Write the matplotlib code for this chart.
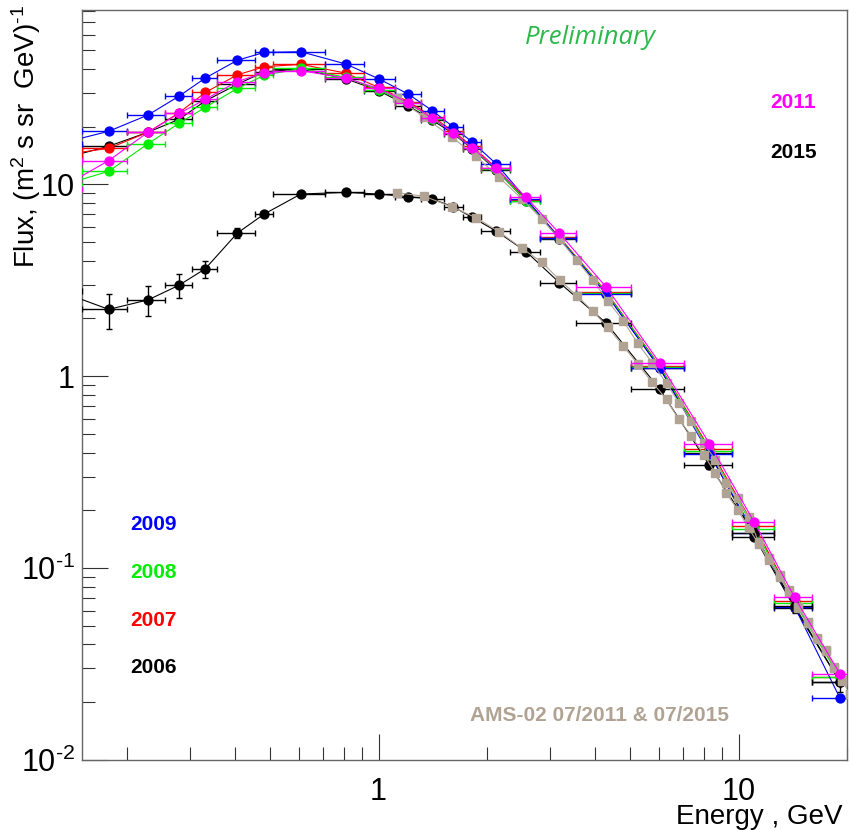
import matplotlib
matplotlib.use("Agg")
import matplotlib.pyplot as plt
import numpy as np

plt.rcParams['font.family'] = ['Liberation Sans', 'DejaVu Sans']
plt.rcParams['mathtext.fontset'] = 'custom'
plt.rcParams['mathtext.rm'] = 'Liberation Sans'
plt.rcParams['mathtext.it'] = 'Liberation Sans:italic'
plt.rcParams['mathtext.bf'] = 'Liberation Sans:bold'

# ---------------- data ----------------
energy = [0.13, 0.178, 0.229, 0.279, 0.330, 0.405, 0.481, 0.608, 0.810, 1.00, 1.21, 1.41,
          1.61, 1.82, 2.12, 2.57, 3.18, 4.29, 6.04, 8.30, 11.05, 14.3, 19.1]
e_lo = [0.11, 0.150, 0.200, 0.255, 0.304, 0.355, 0.454, 0.508, 0.71, 0.91, 1.11, 1.31,
        1.52, 1.72, 1.93, 2.32, 2.81, 3.53, 5.03, 7.05, 9.56, 12.57, 16.0]
e_hi = [0.15, 0.200, 0.255, 0.304, 0.355, 0.454, 0.508, 0.71, 0.91, 1.11, 1.31, 1.52,
        1.72, 1.93, 2.32, 2.81, 3.53, 5.03, 7.05, 9.56, 12.57, 16.0, 22.0]

flux_2006 = [13.5, 15.8, 18.7, 21.8, 27.2, 33.2, 38.6, 39.9, 35.5, 30.8, 25.6, 21.6,
             18.4, 15.3, 11.9, 8.2, 5.2, 2.7, 1.10, 0.40, 0.146, 0.062, 0.0256]
flux_2007 = [14.2, 15.4, 18.7, 23.6, 30.1, 37.2, 41.0, 42.2, 38.0, 32.0, 27.0, 22.5,
             18.9, 15.8, 12.2, 8.3, 5.3, 2.75, 1.13, 0.42, 0.166, 0.067, 0.0272]
flux_2008 = [9.8, 11.7, 16.3, 20.8, 25.2, 31.6, 37.0, 40.2, 36.1, 31.0, 26.4, 22.0,
             18.6, 15.4, 12.0, 8.2, 5.25, 2.72, 1.12, 0.41, 0.160, 0.066, 0.0270]
flux_2009 = [16.3, 18.9, 23.0, 28.8, 35.8, 44.3, 48.7, 49.1, 42.4, 35.5, 29.5, 24.2,
             19.95, 16.6, 12.8, 8.4, 5.23, 2.67, 1.10, 0.392, 0.153, 0.063, 0.0211]
flux_2011 = [9.5, 13.3, 18.7, 23.4, 27.7, 34.3, 38.2, 39.1, 35.8, 31.6, 26.6, 22.1,
             18.6, 15.5, 12.1, 8.55, 5.55, 2.91, 1.17, 0.445, 0.1735, 0.0705, 0.0282]
flux_2015 = [2.77, 2.23, 2.50, 2.98, 3.63, 5.57, 7.0, 8.9, 9.08, 8.9, 8.62, 8.38,
             7.64, 6.73, 5.71, 4.46, 3.07, 1.89, 0.855, 0.343, 0.152, 0.0635, 0.0256]
err_2015 = [0.45, 0.46, 0.44, 0.41, 0.37, 0.33, 0.2, 0.15, 0.12, 0.1, 0.1, 0.1,
            0.1, 0.1, 0.08, 0.06, 0.05, 0.04, 0.03, 0.015, 0.01, 0.005, 0.003]

ams_energy = [1.127, 1.341, 1.600, 1.865, 2.160, 2.500, 2.835, 3.186, 3.551, 3.940, 4.328,
              4.78, 5.243, 5.753, 6.305, 6.822, 7.396, 8.014, 8.62, 9.25, 9.95, 10.66,
              11.36, 12.11, 12.99, 13.76, 14.66, 15.56, 16.48, 17.45, 18.45, 19.42, 20.4]
ams_2011 = [28.07, 22.34, 17.57, 13.99, 10.88, 8.41, 6.62, 5.17, 4.02, 3.16, 2.474,
            1.946, 1.484, 1.176, 0.918, 0.728, 0.582, 0.447, 0.366, 0.2786, 0.231, 0.184,
            0.1373, 0.1125, 0.0920, 0.0769, 0.0630, 0.0526, 0.0431, 0.0374, 0.0306, 0.0261, 0.0222]
ams_2015 = [9.04, 8.66, 7.62, 6.70, 5.66, 4.64, 3.94, 3.17, 2.63, 2.18, 1.798,
            1.437, 1.158, 0.929, 0.758, 0.596, 0.488, 0.3886, 0.312, 0.2454, 0.2008, 0.1612,
            0.134, 0.110, 0.090, 0.0755, 0.0620, 0.0518, 0.0425, 0.0370, 0.0303, 0.0258, 0.0220]

x_ticks = [1, 10]
x_ticklabels = ['1', '10']
y_ticks = [0.01, 0.1, 1, 10]
y_ticklabels = [r'$10^{\text{-2}}$', r'$10^{\text{-1}}$', '1', '10']

# ---------------- plot ----------------
fig = plt.figure(figsize=(8.5, 8.3), dpi=100)
ax = fig.add_axes([82/850, 1-760/830, (847-82)/850, (760-10)/830])
ax.set_xscale('log')
ax.set_yscale('log')
ax.set_xlim(0.15, 20)
ax.set_ylim(0.01, 81)

E = np.array(energy)
xerr = [E - np.array(e_lo), np.array(e_hi) - E]

C_BLACK = '#000000'
C_RED = '#ff0000'
C_GREEN = '#00ee00'
C_BLUE = '#0000ff'
C_MAG = '#ff00ff'
C_TAN = '#b0a393'

def series(y, color, z, yerr=None):
    ax.plot(E, y, '-', color=color, lw=0.8, zorder=z)
    ax.errorbar(E, y, xerr=xerr, yerr=yerr, fmt='o', color=color, ms=6.4,
                elinewidth=1.0, capsize=2.5, capthick=1.0, zorder=z + 0.1)

series(flux_2006, C_BLACK, 2)
series(flux_2007, C_RED, 3)
series(flux_2008, C_GREEN, 4)
series(flux_2009, C_BLUE, 5)
series(flux_2015, C_BLACK, 6, yerr=err_2015)

ax.plot(ams_energy, ams_2015, '-', color=C_TAN, lw=0.8, zorder=7)
ax.plot(ams_energy, ams_2015, 's', color=C_TAN, ms=5.5, zorder=7.1)
ax.plot(ams_energy, ams_2011, '-', color=C_TAN, lw=0.8, zorder=7)
ax.plot(ams_energy, ams_2011, 's', color=C_TAN, ms=5.5, zorder=7.1)

series(flux_2011, C_MAG, 8)

# axes styling (ROOT-like)
for s in ax.spines.values():
    s.set_color('#666666')
    s.set_linewidth(1.0)
ax.tick_params(which='both', direction='in', top=False, right=False, color='#333333')
ax.tick_params(which='major', length=19, width=0.8)
ax.tick_params(which='minor', length=9.5, width=0.8)
ax.tick_params(axis='x', which='major', pad=12, labelsize=22)
ax.tick_params(axis='y', which='major', pad=5, labelsize=22)

ax.set_xticks(x_ticks)
ax.set_xticklabels(x_ticklabels)
ax.set_yticks(y_ticks)
ax.set_yticklabels(y_ticklabels)
ax.xaxis.set_minor_locator(matplotlib.ticker.LogLocator(base=10, subs=np.arange(2, 10)))
ax.yaxis.set_minor_locator(matplotlib.ticker.LogLocator(base=10, subs=np.arange(2, 10)))
ax.xaxis.set_minor_formatter(matplotlib.ticker.NullFormatter())
ax.yaxis.set_minor_formatter(matplotlib.ticker.NullFormatter())

fig.text(843/850, 1-824/830, 'Energy , GeV', ha='right', va='baseline', fontsize=20)
fig.text(26/850, 1-5/830, r'Flux, (m$^{2}$ s sr  GeV)$^{\text{-1}}$', rotation=90,
         ha='center', va='top', fontsize=20)

fig.text(590/850, 1-38/830, 'Preliminary', color='#2db84a', style='italic',
         fontsize=18.5, ha='center', va='center', family=['Open Sans', 'DejaVu Sans'])
fig.text(770/850, 1-103/830, '2011', color=C_MAG, fontsize=15, fontweight='bold', va='center')
fig.text(770/850, 1-153/830, '2015', color=C_BLACK, fontsize=15, fontweight='bold', va='center')
fig.text(130/850, 1-525/830, '2009', color=C_BLUE, fontsize=15, fontweight='bold', va='center')
fig.text(130/850, 1-573/830, '2008', color=C_GREEN, fontsize=15, fontweight='bold', va='center')
fig.text(130/850, 1-620/830, '2007', color=C_RED, fontsize=15, fontweight='bold', va='center')
fig.text(130/850, 1-667/830, '2006', color=C_BLACK, fontsize=15, fontweight='bold', va='center')
fig.text(470/850, 1-715/830, 'AMS-02 07/2011 & 07/2015', color=C_TAN, fontsize=15,
         fontweight='bold', va='center')

fig.savefig('out.png', dpi=100)
